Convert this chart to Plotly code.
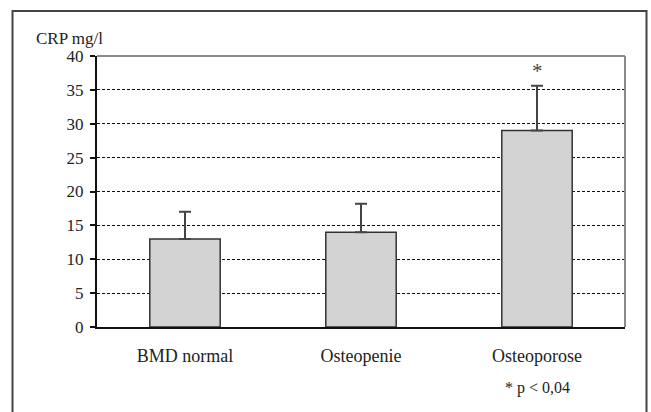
import plotly.graph_objects as go

categories = ["BMD normal", "Osteopenie", "Osteoporose"]
crp_mean = [13.0, 14.0, 29.0]
crp_err = [4.0, 4.2, 6.6]
y_ticks = [0, 5, 10, 15, 20, 25, 30, 35, 40]
sig_label = "*"
footnote = "* p < 0,04"
y_title = "CRP mg/l"

W, H = 651, 412
L, R, T, B = 97, 26, 56, 85
pw, ph = W - L - R, H - T - B

def px_x(x):
    return (x - L) / pw

def px_y(y):
    return (H - B - y) / ph

serif = "Liberation Serif, Times New Roman, serif"

fig = go.Figure()
fig.add_trace(go.Bar(
    x=categories, y=crp_mean,
    marker=dict(color="#d3d3d3", line=dict(color="#333333", width=1.5)),
    error_y=dict(type="data", array=crp_err, arrayminus=[0, 0, 0], symmetric=False,
                 color="#444444", thickness=2, width=6),
    width=0.4, showlegend=False,
))

fig.update_layout(
    width=W, height=H,
    margin=dict(l=L, r=R, t=T, b=B),
    paper_bgcolor="white", plot_bgcolor="white",
    font=dict(family=serif, color="#222222"),
    bargap=0.6,
    xaxis=dict(
        showgrid=False, ticks="", showline=True, linecolor="#111111", linewidth=2,
        tickfont=dict(size=18, family=serif, color="#222222"),
        ticklabelstandoff=11, zeroline=False,
    ),
    yaxis=dict(
        range=[0, 40], tickvals=y_ticks, ticks="outside", ticklen=5, tickwidth=2,
        tickcolor="#111111", showline=True, linecolor="#111111", linewidth=2,
        showgrid=True, gridcolor="#111111", gridwidth=1, griddash="3px,2px",
        zeroline=False, tickfont=dict(size=17, family=serif, color="#222222"),
        ticklabelstandoff=3,
    ),
    shapes=[
        dict(type="line", xref="paper", yref="paper", x0=0, x1=1, y0=1, y1=1,
             line=dict(color="#8a8a8a", width=2), layer="above"),
        dict(type="line", xref="paper", yref="paper", x0=1, x1=1, y0=0, y1=1,
             line=dict(color="#8a8a8a", width=2), layer="above"),
        dict(type="rect", xref="paper", yref="paper",
             x0=px_x(12.5), x1=px_x(646.5), y0=px_y(430), y1=px_y(11),
             line=dict(color="#444444", width=2), layer="above"),
    ],
    annotations=[
        dict(text=y_title, xref="paper", yref="paper", x=px_x(34), y=px_y(38),
             xanchor="left", yanchor="middle", showarrow=False,
             font=dict(size=17, family=serif, color="#222222")),
        dict(text=sig_label, xref="x", yref="paper", x=categories[2], y=px_y(71),
             xanchor="center", yanchor="middle", showarrow=False,
             font=dict(size=21, family=serif, color="#444444")),
        dict(text=footnote, xref="x", yref="paper", x=categories[2], y=px_y(388),
             xanchor="center", yanchor="middle", showarrow=False,
             font=dict(size=16, family=serif, color="#222222")),
    ],
)

fig.write_html("out.html")
